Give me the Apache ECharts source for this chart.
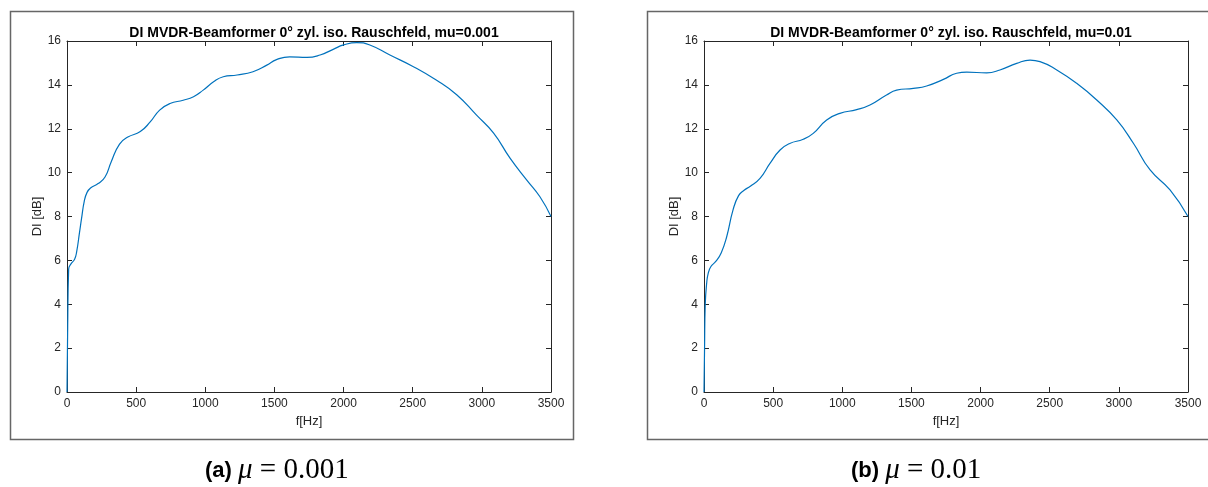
<!DOCTYPE html>
<html>
<head>
<meta charset="utf-8">
<script src="https://cdn.jsdelivr.net/npm/echarts@6/dist/echarts.min.js"></script>
<style>
  html, body { margin: 0; padding: 0; background: #fff; }
  #chart { width: 1208px; height: 487px; }
</style>
</head>
<body>
<div id="chart"></div>
<script>
// Werte (f in Hz, DI in dB)
var freqA = [0, 5, 12, 30, 55, 70, 90, 105, 125, 145, 170, 225, 275, 320, 380, 440, 530, 600, 670, 745,
  840, 915, 985, 1060, 1130, 1230, 1345, 1445, 1515, 1610, 1735, 1830, 1925, 2000, 2095, 2190, 2335,
  2505, 2670, 2820, 2960, 3085, 3205, 3325, 3420, 3500];
var diA = [0, 3, 5.6, 5.85, 6.05, 6.4, 7.25, 7.9, 8.7, 9.1, 9.3, 9.5, 9.8, 10.5, 11.3, 11.62, 11.87, 12.3,
  12.85, 13.15, 13.3, 13.46, 13.76, 14.14, 14.37, 14.45, 14.6, 14.9, 15.15, 15.28, 15.25, 15.36, 15.62,
  15.82, 15.93, 15.82, 15.36, 14.83, 14.22, 13.54, 12.63, 11.8, 10.65, 9.66, 8.9, 8.0];

var freqB = [0, 4, 9, 20, 30, 50, 85, 125, 165, 210, 250, 290, 335, 405, 477, 550, 620, 718, 790, 887,
  983, 1104, 1200, 1320, 1393, 1514, 1610, 1731, 1827, 1900, 2044, 2140, 2261, 2358, 2430, 2551, 2695,
  2840, 2985, 3105, 3226, 3370, 3500];
var diB = [0, 2, 4, 5.0, 5.4, 5.72, 5.95, 6.35, 7.1, 8.3, 8.95, 9.2, 9.38, 9.74, 10.42, 11.03, 11.33,
  11.52, 11.79, 12.4, 12.7, 12.87, 13.08, 13.54, 13.76, 13.84, 13.95, 14.25, 14.53, 14.58, 14.55, 14.68,
  14.98, 15.13, 15.06, 14.68, 14.07, 13.31, 12.4, 11.34, 10.12, 9.21, 8.0];

var titles = ['DI MVDR-Beamformer 0° zyl. iso. Rauschfeld, mu=0.001',
  'DI MVDR-Beamformer 0° zyl. iso. Rauschfeld, mu=0.01'];
var muLabels = ['0.001', '0.01'];

var axisColor = '#262626';
var font = 'Liberation Sans';

function zip(xs, ys) {
  var out = [];
  for (var i = 0; i < xs.length; i++) out.push([xs[i], ys[i]]);
  return out;
}

var gridLeft = [67, 704];

function xAx(gi, top) {
  return {
    type: 'value', gridIndex: gi, position: top ? 'top' : 'bottom',
    min: 0, max: 3500, interval: 500,
    name: top ? '' : 'f[Hz]', nameLocation: 'middle', nameGap: 22,
    nameTextStyle: { color: axisColor, fontSize: 13, fontFamily: font },
    axisLine: { show: true, onZero: false, lineStyle: { color: axisColor, width: 1 } },
    axisTick: { show: true, inside: true, length: 5, lineStyle: { color: axisColor } },
    axisLabel: { show: !top, color: axisColor, fontSize: 12, fontFamily: font, margin: 6,
      formatter: function (v) { return String(v); } },
    splitLine: { show: false }
  };
}

function yAx(gi, right) {
  return {
    type: 'value', gridIndex: gi, position: right ? 'right' : 'left',
    min: 0, max: 16, interval: 2,
    name: right ? '' : 'DI [dB]', nameLocation: 'middle', nameGap: 23, nameRotate: 90,
    nameTextStyle: { color: axisColor, fontSize: 13, fontFamily: font },
    axisLine: { show: true, onZero: false, lineStyle: { color: axisColor, width: 1 } },
    axisTick: { show: true, inside: true, length: 5, lineStyle: { color: axisColor } },
    axisLabel: { show: !right, color: axisColor, fontSize: 12, fontFamily: font, margin: 6 },
    splitLine: { show: false }
  };
}

function caption(x, letter, mu) {
  return {
    type: 'text', left: x, top: 456,
    style: {
      text: '{a|(' + letter + ') }{m|μ }{n|= ' + mu + '}',
      rich: {
        a: { fontFamily: font, fontWeight: 'bold', fontSize: 22, fill: '#000' },
        m: { fontFamily: 'Liberation Serif', fontStyle: 'italic', fontSize: 29, fill: '#000' },
        n: { fontFamily: 'Liberation Serif', fontSize: 29, fill: '#000' }
      }
    }
  };
}

var chart = echarts.init(document.getElementById('chart'));

var option = {
  animation: false,
  backgroundColor: '#fff',
  title: [0, 1].map(function (i) {
    return {
      text: titles[i], left: gridLeft[i] + 242, top: 21, textAlign: 'center',
      textStyle: { color: '#000', fontSize: 14, fontWeight: 'bold', fontFamily: font }
    };
  }),
  grid: [
    { left: 67, top: 41, width: 484, height: 351 },
    { left: 704, top: 41, width: 484, height: 351 }
  ],
  xAxis: [xAx(0, false), xAx(0, true), xAx(1, false), xAx(1, true)],
  yAxis: [yAx(0, false), yAx(0, true), yAx(1, false), yAx(1, true)],
  series: [
    {
      type: 'line', xAxisIndex: 0, yAxisIndex: 0, data: zip(freqA, diA),
      showSymbol: false, smooth: 0.5,
      lineStyle: { color: '#0072BD', width: 1.2 }
    },
    {
      type: 'line', xAxisIndex: 2, yAxisIndex: 2, data: zip(freqB, diB),
      showSymbol: false, smooth: 0.5,
      lineStyle: { color: '#0072BD', width: 1.2 }
    }
  ],
  graphic: [
    // Rahmen der beiden Teilbilder
    { type: 'rect', shape: { x: 10.5, y: 11.5, width: 563, height: 428 },
      style: { fill: 'none', stroke: '#666', lineWidth: 1.5 } },
    { type: 'rect', shape: { x: 647.5, y: 11.5, width: 562, height: 428 },
      style: { fill: 'none', stroke: '#666', lineWidth: 1.5 } },
    caption(205, 'a', muLabels[0]),
    caption(851, 'b', muLabels[1])
  ]
};

chart.setOption(option);
</script>
</body>
</html>
